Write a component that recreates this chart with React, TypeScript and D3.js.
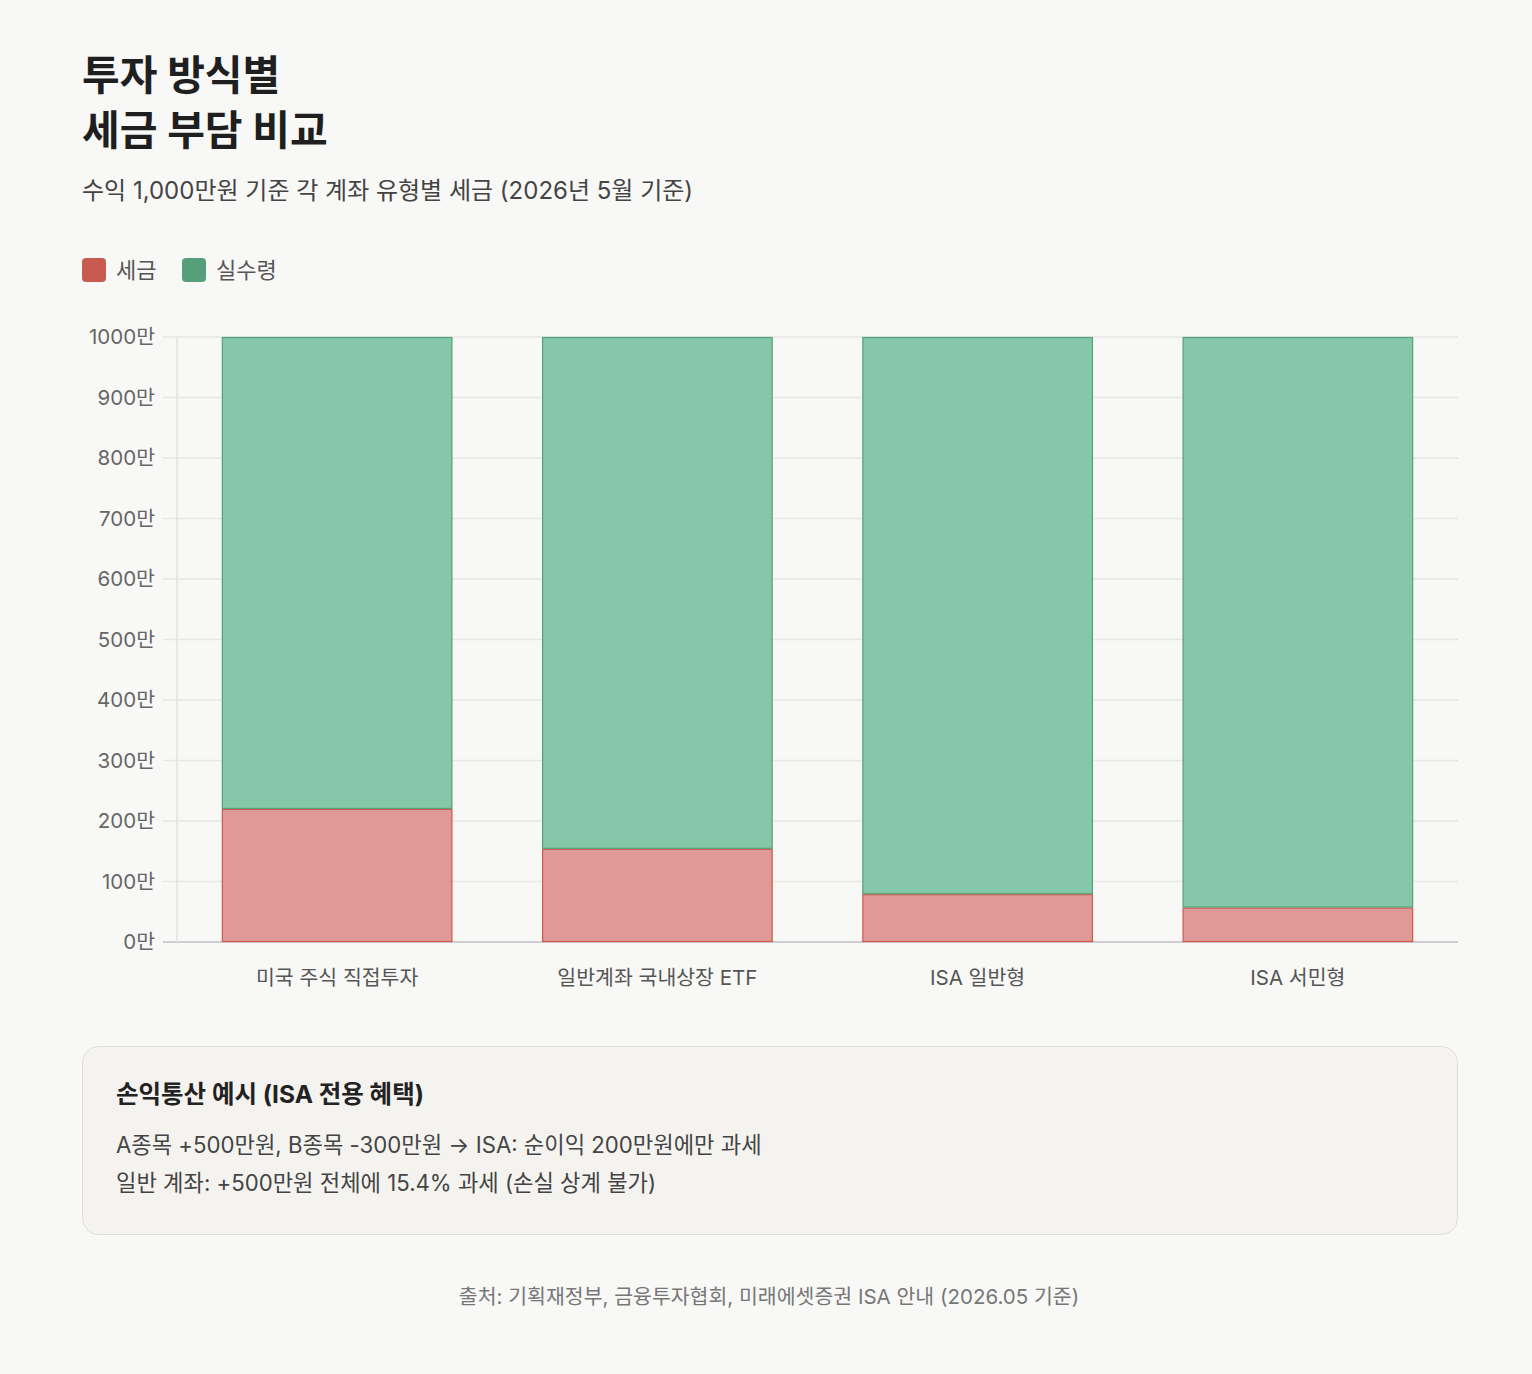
import React, { useEffect, useRef } from 'react';
import * as d3 from 'd3';

// 계좌 유형
const categories = ['미국 주식 직접투자', '일반계좌 국내상장 ETF', 'ISA 일반형', 'ISA 서민형'];
// 수익 1,000만원 기준 세금 / 실수령 (만원)
const taxValues = [220, 154, 79, 57];
const netValues = taxValues.map(t => 1000 - t);
const yTicks = [0, 100, 200, 300, 400, 500, 600, 700, 800, 900, 1000];

const seriesNames = ['세금', '실수령'];
const noteLines = [
  'A종목 +500만원, B종목 -300만원 → ISA: 순이익 200만원에만 과세',
  '일반 계좌: +500만원 전체에 15.4% 과세 (손실 상계 불가)',
];

const FONT = "Inter, 'Noto Sans CJK KR', sans-serif";

const App: React.FC = () => {
  const ref = useRef<SVGSVGElement>(null);

  useEffect(() => {
    document.body.style.margin = '0';
    document.body.style.background = '#f8f8f6';

    const svg = d3.select(ref.current);
    svg.selectAll('*').remove();

    const W = 1532;
    const H = 1374;
    svg.append('rect').attr('width', W).attr('height', H).attr('fill', '#f8f8f6');

    // 제목
    const title = svg.append('g').attr('font-family', FONT).attr('fill', '#1f1f1f');
    title.append('text').attr('x', 82).attr('y', 90).attr('font-size', 41).attr('font-weight', 700).text('투자 방식별');
    title.append('text').attr('x', 82).attr('y', 145).attr('font-size', 41).attr('font-weight', 700).text('세금 부담 비교');
    title.append('text').attr('x', 82).attr('y', 199).attr('font-size', 24).attr('fill', '#444').text('수익 1,000만원 기준 각 계좌 유형별 세금 (2026년 5월 기준)');

    // 범례
    const legendColors = ['#c95a50', '#55a07b'];
    const legend = svg.append('g').attr('font-family', FONT);
    const legendX = [82, 182];
    seriesNames.forEach((name, i) => {
      legend.append('rect').attr('x', legendX[i]).attr('y', 258).attr('width', 24).attr('height', 24).attr('rx', 4).attr('fill', legendColors[i]);
      legend.append('text').attr('x', legendX[i] + 34).attr('y', 278).attr('font-size', 22).attr('fill', '#555').text(name);
    });

    // 차트 영역
    const left = 177;
    const right = 1458;
    const top = 337;
    const bottom = 942;

    const x = d3.scaleBand().domain(categories).range([left, right]).paddingInner(0).paddingOuter(0);
    const y = d3.scaleLinear().domain([0, 1000]).range([bottom, top]);
    const barW = x.bandwidth() * 0.72;

    const grid = svg.append('g');
    yTicks.forEach(t => {
      grid.append('line')
        .attr('x1', left - 14).attr('x2', right)
        .attr('y1', y(t)).attr('y2', y(t))
        .attr('stroke', t === 0 ? '#cfcfcf' : '#e6e6e4').attr('stroke-width', t === 0 ? 2 : 1.5);
    });
    grid.append('line')
      .attr('x1', left).attr('x2', left).attr('y1', top).attr('y2', bottom)
      .attr('stroke', '#e2e2e0').attr('stroke-width', 1.5);

    // y축 눈금 라벨
    svg.append('g').attr('font-family', FONT)
      .selectAll('text').data(yTicks).enter().append('text')
      .attr('x', 155).attr('y', d => y(d)).attr('dy', '0.36em')
      .attr('text-anchor', 'end').attr('font-size', 20.5).attr('fill', '#666')
      .text(d => `${d}만`);

    // 누적 막대
    const stackData = categories.map((c, i) => ({ cat: c, tax: taxValues[i], net: netValues[i] }));
    const stack = d3.stack<any>().keys(['tax', 'net'])(stackData);
    const fills = ['#df9a97', '#85c7a8'];
    const strokes = ['#d2574f', '#55a07b'];

    stack.forEach((layer, li) => {
      svg.append('g').selectAll('rect').data(layer).enter().append('rect')
        .attr('x', d => x(d.data.cat)! + (x.bandwidth() - barW) / 2 + 0.5)
        .attr('y', d => y(d[1]) + 0.5)
        .attr('width', barW - 1)
        .attr('height', d => y(d[0]) - y(d[1]) - 1)
        .attr('fill', fills[li])
        .attr('stroke', strokes[li]).attr('stroke-width', 1.2);
    });

    // x축 라벨
    svg.append('g').attr('font-family', FONT)
      .selectAll('text').data(categories).enter().append('text')
      .attr('x', d => x(d)! + x.bandwidth() / 2).attr('y', 985)
      .attr('text-anchor', 'middle').attr('font-size', 20.5).attr('fill', '#555')
      .text(d => d);

    // 손익통산 안내 박스
    const box = svg.append('g').attr('font-family', FONT);
    box.append('rect').attr('x', 82.5).attr('y', 1046.5).attr('width', 1375).attr('height', 188).attr('rx', 16)
      .attr('fill', '#f4f3ef').attr('stroke', '#e0ded8').attr('stroke-width', 1);
    box.append('text').attr('x', 116).attr('y', 1103).attr('font-size', 24.5).attr('font-weight', 700).attr('fill', '#222')
      .text('손익통산 예시 (ISA 전용 혜택)');
    noteLines.forEach((line, i) => {
      box.append('text').attr('x', 116).attr('y', 1153 + i * 38).attr('font-size', 22.2).attr('fill', '#444').text(line);
    });

    // 출처
    svg.append('text').attr('x', 769).attr('y', 1304).attr('text-anchor', 'middle')
      .attr('font-family', FONT).attr('font-size', 20.5).attr('fill', '#777')
      .text('출처: 기획재정부, 금융투자협회, 미래에셋증권 ISA 안내 (2026.05 기준)');
  }, []);

  return <svg ref={ref} width={1532} height={1374} style={{ display: 'block' }} />;
};

export default App;
